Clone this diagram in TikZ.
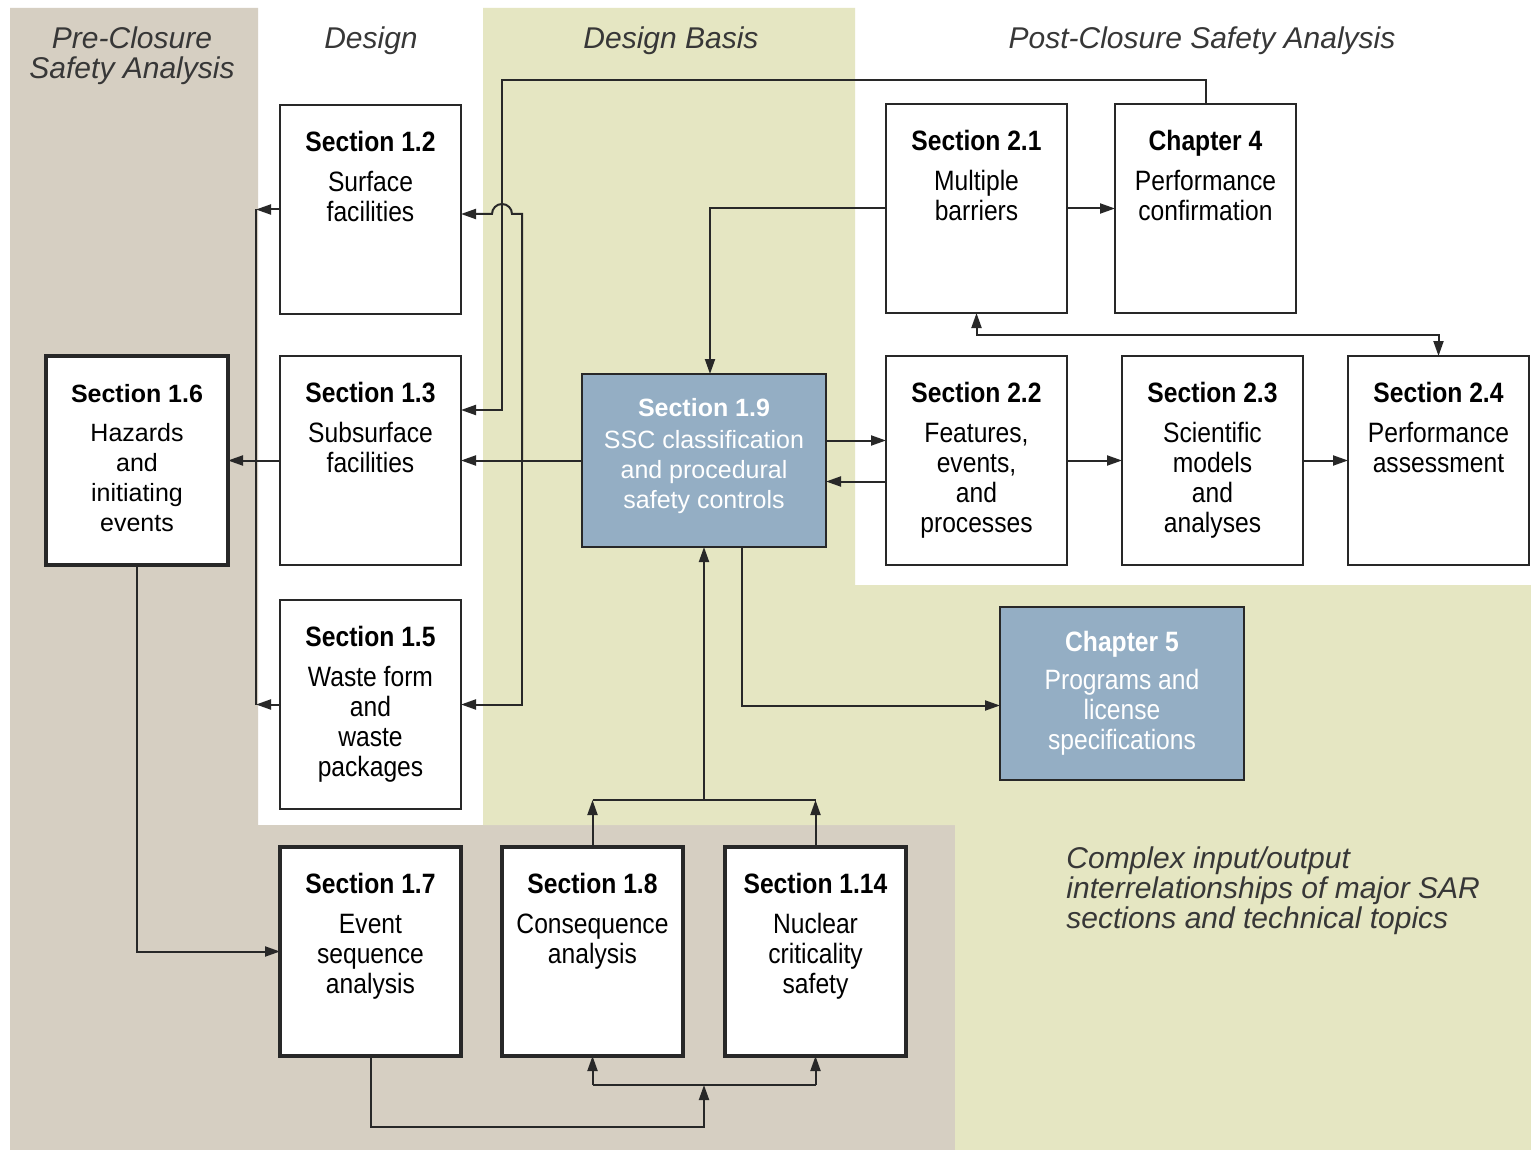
\documentclass[tikz,border=0pt]{standalone}
\usepackage{fontspec}
\setmainfont{Liberation Sans}
\newfontfamily\narrowfont{Liberation Sans}[FakeStretch=0.88]
\usetikzlibrary{arrows.meta}
\usetikzlibrary{positioning}

\definecolor{pretan}{RGB}{214,207,194}
\definecolor{basisgreen}{RGB}{229,230,194}
\definecolor{sscblue}{RGB}{148,174,196}
\definecolor{linegray}{RGB}{40,40,40}
\definecolor{headgray}{RGB}{55,55,55}

\tikzstyle{secbox} = [draw=linegray, line width=1.3pt, fill=white, inner sep=0pt, outer sep=0pt,
    text=black, font=\narrowfont\fontsize{14}{15}\selectfont]
\tikzstyle{thickbox} = [secbox, line width=1.8pt]
\tikzstyle{plainbox} = [thickbox, font=\fontsize{12.5}{15}\selectfont]
\tikzstyle{sscbox} = [secbox, fill=sscblue, text=white]
\tikzstyle{colhead} = [font=\fontsize{15}{15}\selectfont\itshape, text=headgray,
    align=center, inner sep=0pt]
\tikzstyle{arrow} = [line width=1pt, draw=linegray, -{Triangle[length=7.5pt,width=5pt]}]
\tikzstyle{dblarrow} = [arrow, {Triangle[length=7.5pt,width=5pt]}-{Triangle[length=7.5pt,width=5pt]}]
\tikzstyle{line} = [line width=1pt, draw=linegray]

% width, height, top skip, gap, heading, body
\newcommand{\boxtext}[6]{\parbox[c][#2][t]{#1}{\centering\vspace*{#3}%
    {\bfseries #5\par}\vspace{#4}#6\par}}
\newcommand{\sectext}[2]{\boxtext{90.5pt}{104.5pt}{13pt}{5pt}{#1}{#2}}

\begin{document}
\begin{tikzpicture}[x=0.5pt, y=-0.5pt]
    % Background
    \useasboundingbox (0,0) rectangle (1531,1150);
    \fill[white] (0,0) rectangle (1531,1150);
    \fill[pretan] (10,8) -- (258,8) -- (258,825) -- (955,825) -- (955,1150) -- (10,1150) -- cycle;
    \fill[basisgreen] (483,8) -- (855,8) -- (855,585) -- (1531,585) -- (1531,1150)
        -- (955,1150) -- (955,825) -- (483,825) -- cycle;

    % Column headings
    \node[colhead, anchor=base] (hpre) at (132,79) {Pre-Closure\\Safety Analysis};
    \node[colhead, anchor=base] (hdesign) at (371,49) {Design};
    \node[colhead, anchor=base] (hbasis) at (671,49) {Design Basis};
    \node[colhead, anchor=base] (hpost) at (1202,49) {Post-Closure Safety Analysis};

    % Place nodes
    \node[secbox, anchor=north west] (s12) at (280,105) {\sectext{Section 1.2}{Surface\\facilities}};
    \node[secbox, below=21pt of s12] (s13) {\sectext{Section 1.3}{Subsurface\\facilities}};
    \node[secbox, below=17.5pt of s13] (s15) {\sectext{Section 1.5}{Waste form\\and\\waste\\packages}};
    \node[plainbox, left=26pt of s13] (s16) {\boxtext{91pt}{104.5pt}{14.4pt}{4.5pt}{Section 1.6}{Hazards\\and\\initiating\\events}};
    \node[thickbox, below=19pt of s15] (s17) {\sectext{Section 1.7}{Event\\sequence\\analysis}};
    \node[thickbox, right=20.5pt of s17] (s18) {\sectext{Section 1.8}{Consequence\\analysis}};
    \node[thickbox, right=21pt of s18] (s114) {\sectext{Section 1.14}{Nuclear\\criticality\\safety}};
    \node[sscbox, font=\fontsize{12.5}{15}\selectfont, right=60.5pt of s13] (s19)
        {\boxtext{122pt}{86.5pt}{12.4pt}{1pt}{Section 1.9}{SSC classification\\and procedural\\safety controls}};
    \node[secbox, right=30pt of s19] (s22) {\sectext{Section 2.2}{Features,\\events,\\and\\processes}};
    \node[secbox, right=27.5pt of s22] (s23) {\sectext{Section 2.3}{Scientific\\models\\and\\analyses}};
    \node[secbox, right=22.5pt of s23] (s24) {\sectext{Section 2.4}{Performance\\assessment}};
    \node[secbox, above=21.5pt of s22] (s21) {\sectext{Section 2.1}{Multiple\\barriers}};
    \node[secbox, right=24pt of s21] (ch4) {\sectext{Chapter 4}{Performance\\confirmation}};
    \node[sscbox, anchor=north west] (ch5) at (1000,607)
        {\boxtext{122pt}{86.5pt}{12.3pt}{4pt}{Chapter 5}{Programs and\\license\\specifications}};

    \node[anchor=base west, align=left, font=\fontsize{15}{15}\selectfont\itshape, text=headgray,
        inner sep=0pt] (note) at (1066,928)
        {Complex input/output\\interrelationships of major SAR\\sections and technical topics};

    % Draw edges
    \coordinate (loop) at (502,80);
    \coordinate (y410) at (0,410);
    \coordinate (y214) at (0,214);
    \coordinate (jn) at (522,0);
    \coordinate (lbus) at (256,0);
    \coordinate (fb) at (0,335);
    \coordinate (upbus) at (0,800);
    \coordinate (lowbus) at (0,1085);
    \coordinate (lowy) at (0,1127);
    \coordinate (sscout) at ([yshift=10pt]s19.east);
    \coordinate (sscin) at ([yshift=-10.5pt]s19.east);

    \draw[arrow] (ch4.north) |- (loop) |- (s13.east |- y410);
    \draw[arrow] (s19.west) -- (s19.west -| s13.east);
    \draw[arrow] (jn |- s19.west) -- (jn |- y214) -- ++(-10,0)
        arc[start angle=0, end angle=180, radius=5pt] -- (s12.east |- y214);
    \draw[arrow] (jn |- s19.west) |- (s15.east);
    \draw[arrow] (s21.west) -| ([xshift=3pt]s19.north);
    \draw[arrow] (s21.east) -- (ch4.west);
    \draw[dblarrow] (s21.south) |- (s24.north |- fb) -- (s24.north);
    \draw[arrow] (sscout) -- (sscout -| s22.west);
    \draw[arrow] (sscin -| s22.west) -- (sscin);
    \draw[arrow] (s22.east) -- (s23.west);
    \draw[arrow] (s23.east) -- (s24.west);
    \draw[arrow] ([xshift=19pt]s19.south) |- ([yshift=-6pt]ch5.west);
    \draw[arrow] (s18.north) -- (s18.north |- upbus);
    \draw[arrow] (s114.north) -- (s114.north |- upbus);
    \draw[line] (s18.north |- upbus) -- (s114.north |- upbus);
    \draw[arrow] (s19.south |- upbus) -- (s19.south);
    \draw[arrow] (s16.south) |- (s17.west);
    \draw[arrow] (s17.south) |- (s19.south |- lowy) -- (s19.south |- lowbus);
    \draw[line] (s18.south |- lowbus) -- (s114.south |- lowbus);
    \draw[arrow] (s18.south |- lowbus) -- (s18.south);
    \draw[arrow] (s114.south |- lowbus) -- (s114.south);
    \draw[arrow] (s12.west) -- (s12.west -| lbus);
    \draw[arrow] (s15.west) -- (s15.west -| lbus);
    \draw[line] (s12.west -| lbus) -- (s15.west -| lbus);
    \draw[arrow] (s13.west) -- (s16.east);
\end{tikzpicture}
\end{document}
